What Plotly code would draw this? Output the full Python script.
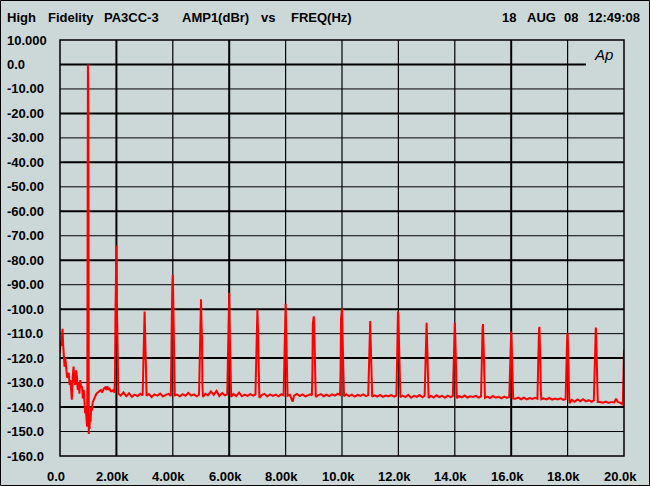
import plotly.graph_objects as go

# ---------------- data ----------------
# 0 - 2 kHz : low-frequency noise, fundamental (1 kHz) and its skirt
low_band_freq = [0, 20, 45, 70, 90, 110, 130, 160, 190, 220, 250, 280, 310, 340, 370, 400,
                 420, 450, 480, 510, 540, 570, 600, 630, 660, 690, 720, 750, 780, 810, 840,
                 870, 890, 910, 930, 945, 960, 968, 975, 983, 990, 998, 1006, 1012, 1020, 1030,
                 1045, 1065, 1085, 1105, 1130, 1160, 1200, 1240, 1280, 1320, 1360, 1400,
                 1450, 1500, 1550, 1600, 1640, 1680, 1720, 1760, 1800, 1840, 1880, 1920]
low_band_dbr = [-118, -113, -115, -109, -108, -114, -117, -123.5, -120, -124, -128, -127.5,
                -126, -131, -129, -134, -137, -128, -123.5, -129, -131, -125, -127.5, -133,
                -130, -134.5, -129, -132, -131.5, -136.5, -133,
                -138, -142.5, -140, -146, -143, -148, -135, -16, -1, 0, -8, -20, -140, -151, -145,
                -149, -143, -146, -140, -141.5, -138, -137, -135.5, -134.8, -134.2, -133.8,
                -133.5, -133, -134, -132.5, -132, -133, -131.5, -133, -132.5, -133.5, -133.5,
                -133, -132.8]

# 2 kHz - 20 kHz : harmonics and noise floor
high_band_freq = [
    1930, 1950, 1965, 1985, 2000, 2015, 2035, 2050, 2070,
    2150, 2250, 2350, 2450, 2550, 2650, 2750, 2850,
    2930, 2950, 2965, 2985, 3000, 3015, 3035, 3050, 3070,
    3150, 3250, 3350, 3450, 3550, 3650, 3750, 3850,
    3930, 3950, 3965, 3985, 4000, 4015, 4035, 4050, 4070,
    4150, 4250, 4350, 4450, 4550, 4650, 4750, 4850,
    4930, 4950, 4965, 4985, 5000, 5015, 5035, 5050, 5070,
    5150, 5250, 5350, 5450, 5550, 5650, 5750, 5850,
    5930, 5950, 5965, 5985, 6000, 6015, 6035, 6050, 6070,
    6150, 6250, 6350, 6450, 6550, 6650, 6750, 6850,
    6930, 6950, 6965, 6985, 7000, 7015, 7035, 7050, 7070,
    7150, 7250, 7350, 7450, 7550, 7650, 7750, 7850,
    7930, 7950, 7965, 7985, 8000, 8015, 8035, 8050, 8070,
    8150, 8250, 8300, 8400, 8500, 8600, 8700, 8800, 8880,
    8930, 8950, 8965, 8985, 9000, 9015, 9035, 9050, 9070,
    9150, 9250, 9350, 9450, 9550, 9650, 9750, 9850,
    9930, 9950, 9965, 9985, 10000, 10015, 10035, 10050, 10070,
    10150, 10250, 10350, 10450, 10550, 10650, 10750, 10850,
    10930, 10950, 10965, 10985, 11000, 11015, 11035, 11050, 11070,
    11150, 11250, 11350, 11450, 11550, 11650, 11750, 11850,
    11930, 11950, 11965, 11985, 12000, 12015, 12035, 12050, 12070,
    12150, 12250, 12350, 12450, 12550, 12650, 12750, 12850,
    12930, 12950, 12965, 12985, 13000, 13015, 13035, 13050, 13070,
    13150, 13250, 13350, 13450, 13550, 13650, 13750, 13850,
    13930, 13950, 13965, 13985, 14000, 14015, 14035, 14050, 14070,
    14150, 14250, 14350, 14450, 14550, 14650, 14750, 14850,
    14930, 14950, 14965, 14985, 15000, 15015, 15035, 15050, 15070,
    15150, 15250, 15350, 15450, 15550, 15650, 15750, 15850,
    15930, 15950, 15965, 15985, 16000, 16015, 16035, 16050, 16070,
    16150, 16250, 16350, 16450, 16550, 16650, 16750, 16850,
    16930, 16950, 16965, 16985, 17000, 17015, 17035, 17050, 17070,
    17150, 17250, 17350, 17450, 17550, 17650, 17750, 17850,
    17930, 17950, 17965, 17985, 18000, 18015, 18035, 18050, 18070,
    18150, 18250, 18350, 18450, 18550, 18650, 18750, 18850,
    18930, 18950, 18965, 18985, 19000, 19015, 19035, 19050, 19070,
    19150, 19250, 19350, 19450, 19550, 19650, 19720, 19780, 19850, 19920, 19945,
    19960, 19972, 19988, 20000]
high_band_dbr = [
    -134.2, -128, -104, -78, -74, -96, -108, -130, -134.5,
    -135.3, -134, -135.6, -134.4, -135.8, -134.9, -135.5, -134.6,
    -135.2, -126, -112, -103, -101, -108, -118, -131, -135.4,
    -134.7, -135.9, -134.8, -135.3, -134.5, -135.7, -135, -134.6,
    -135.5, -125, -104, -89, -86, -95, -112, -130, -135.2,
    -134.9, -135.6, -134.7, -135.4, -134.2, -135.3, -134.8, -135.6,
    -135, -124, -102, -97, -96, -104, -112, -131, -135.9,
    -134.6, -135.2, -133.6, -135, -133.4, -135.5, -134.3, -135.2,
    -134.8, -122, -107, -95, -93.3, -107, -118, -131, -135.8,
    -134.6, -135.5, -134.1, -135.6, -134.9, -135.4, -134.7, -135.3,
    -134.9, -125, -111, -102, -100, -106, -119, -132, -136.2,
    -135.1, -134.6, -135.7, -134.8, -135.4, -134.9, -135.6, -134.7,
    -135.2, -124, -104, -99, -97.8, -106, -117, -131, -135.4,
    -135, -137.8, -135.3, -134.6, -135.5, -134.8, -135.6, -135.1, -134.8,
    -135.3, -126, -106, -104, -102.9, -108, -120, -132, -135.9,
    -135.2, -134.7, -135.6, -134.9, -135.5, -134.8, -135.3, -134.5,
    -135, -125, -104, -101, -99.7, -108, -117, -131, -135.6,
    -134.8, -135.5, -134.9, -135.7, -135, -135.4, -134.8, -135.5,
    -135.1, -126, -109, -106, -104.8, -112, -121, -132, -135.8,
    -135.2, -135.7, -135, -135.8, -135.3, -135.6, -135.1, -135.7,
    -135.3, -122, -106, -101, -103, -111, -119, -131, -136,
    -135.3, -135.9, -135, -136.2, -135.4, -135.8, -135.1, -136,
    -135.4, -126, -110, -107, -105.6, -112, -122, -132, -136.3,
    -135.4, -136.1, -135.2, -135.9, -135.4, -136.2, -135.3, -135.9,
    -135.5, -127, -111, -107, -105.6, -110, -121, -132, -136.4,
    -135.5, -136, -135.3, -136.1, -135.6, -135.9, -135.4, -136.1,
    -135.6, -126, -110, -107.5, -106.1, -112, -122, -132, -136.2,
    -135.7, -136.3, -135.5, -136.2, -135.8, -136.4, -135.7, -136.3,
    -135.9, -128, -113, -110.5, -109.1, -114, -124, -133, -136.5,
    -136.6, -136.1, -136.8, -136.2, -136.9, -136.3, -136.7, -136.2,
    -136.6, -126, -111, -108.5, -107.2, -112, -123, -133, -136.8,
    -136.4, -136.9, -136.3, -137, -136.5, -136.9, -136.4, -137.1,
    -136.7, -127, -113, -111, -109.7, -114, -125, -134, -138.4,
    -137.1, -137.8, -136.9, -137.6, -136.8, -137.7, -137.2, -137.9,
    -137.3, -127, -112, -109, -107.5, -111, -122, -133, -137.9,
    -137.9, -138.2, -137.8, -138.3, -137.9, -138.1, -136.6, -137.9, -138.2, -138.5, -138.9,
    -137.5, -126, -118, -116.5]

y_tick_values = [10, 0, -10, -20, -30, -40, -50, -60, -70, -80, -90, -100, -110, -120, -130, -140, -150, -160]
y_tick_labels = ["10.000", "0.0", "-10.00", "-20.00", "-30.00", "-40.00", "-50.00", "-60.00", "-70.00",
                 "-80.00", "-90.00", "-100.0", "-110.0", "-120.0", "-130.0", "-140.0", "-150.0", "-160.0"]
x_tick_values = [0, 2000, 4000, 6000, 8000, 10000, 12000, 14000, 16000, 18000, 20000]
x_tick_labels = ["0.0", "2.00k", "4.00k", "6.00k", "8.00k", "10.0k", "12.0k", "14.0k", "16.0k", "18.0k", "20.0k"]

header_words = ["High", "Fidelity", "PA3CC-3", "AMP1(dBr)", "vs", "FREQ(Hz)", "18", "AUG", "08", "12:49:08"]

# ---------------- layout / style ----------------
W, H = 650, 486
L, R, T, B = 60, 624, 40, 456          # plot area in pixels
BG = "rgb(204,216,216)"
FONT = "Liberation Sans, Arial, sans-serif"
header_x_px = [5, 45.6, 101.6, 180.3, 259, 289, 499.6, 524.5, 561.8, 585.8]
thick_x = {2000, 6000, 16000}


def px_x(p):
    return (p - L) / (R - L)


def px_y(p):
    return (B - p) / (B - T)


freq = low_band_freq + high_band_freq
level = low_band_dbr + high_band_dbr

fig = go.Figure()
fig.add_trace(go.Scatter(x=freq, y=level, mode="lines",
                         line=dict(color="#ff0000", width=2), hoverinfo="skip"))

shapes = []
# horizontal grid lines
for v in y_tick_values[1:-1]:
    w = 2 if v % 20 == 0 else 1
    x1 = px_x(586) if v == 0 else 1
    shapes.append(dict(type="line", xref="paper", yref="y", x0=0, x1=x1, y0=v, y1=v,
                       line=dict(color="black", width=w), layer="below"))
# vertical grid lines
for v in x_tick_values[1:-1]:
    w = 2 if v in thick_x else 1.2
    shapes.append(dict(type="line", xref="x", yref="paper", x0=v, x1=v, y0=0, y1=1,
                       line=dict(color="black", width=w), layer="below"))
# plot frame
shapes.append(dict(type="rect", xref="paper", yref="paper", x0=0, x1=1, y0=0, y1=1,
                   line=dict(color="black", width=1.5), layer="above"))
# outer border of the image
shapes.append(dict(type="rect", xref="paper", yref="paper",
                   x0=px_x(0.5), x1=px_x(W - 0.5), y0=px_y(H - 0.5), y1=px_y(0.5),
                   line=dict(color="black", width=1), layer="above"))

annotations = []
for word, xp in zip(header_words, header_x_px):
    annotations.append(dict(text=word, xref="paper", yref="paper", x=px_x(xp), y=px_y(18),
                            xanchor="left", yanchor="middle", showarrow=False,
                            font=dict(family=FONT, size=13, color="black", weight="bold")))
for v, t in zip(y_tick_values, y_tick_labels):
    annotations.append(dict(text=t, xref="paper", yref="y", x=px_x(5), y=v,
                            xanchor="left", yanchor="middle", showarrow=False,
                            font=dict(family=FONT, size=13, color="black", weight="bold")))
for v, t in zip(x_tick_values, x_tick_labels):
    annotations.append(dict(text=t, xref="x", yref="paper", x=v, y=px_y(476), xshift=-4,
                            xanchor="center", yanchor="middle", showarrow=False,
                            font=dict(family=FONT, size=13, color="black", weight="bold")))
annotations.append(dict(text="<i>Ap</i>", xref="paper", yref="paper", x=px_x(603), y=px_y(54),
                        xanchor="center", yanchor="middle", showarrow=False,
                        font=dict(family=FONT, size=15, color="black")))

fig.update_layout(
    width=W, height=H,
    margin=dict(l=L, r=W - R, t=T, b=H - B),
    paper_bgcolor=BG, plot_bgcolor=BG,
    showlegend=False,
    xaxis=dict(range=[0, 20000], showgrid=False, zeroline=False, showticklabels=False,
               ticks="", fixedrange=True),
    yaxis=dict(range=[-160, 10], showgrid=False, zeroline=False, showticklabels=False,
               ticks="", fixedrange=True),
    shapes=shapes,
    annotations=annotations,
)

fig.write_html("out.html", config={"displayModeBar": False},
               post_script="document.body.style.margin='0';document.body.style.padding='0';"
                           "document.body.style.overflow='hidden';")
